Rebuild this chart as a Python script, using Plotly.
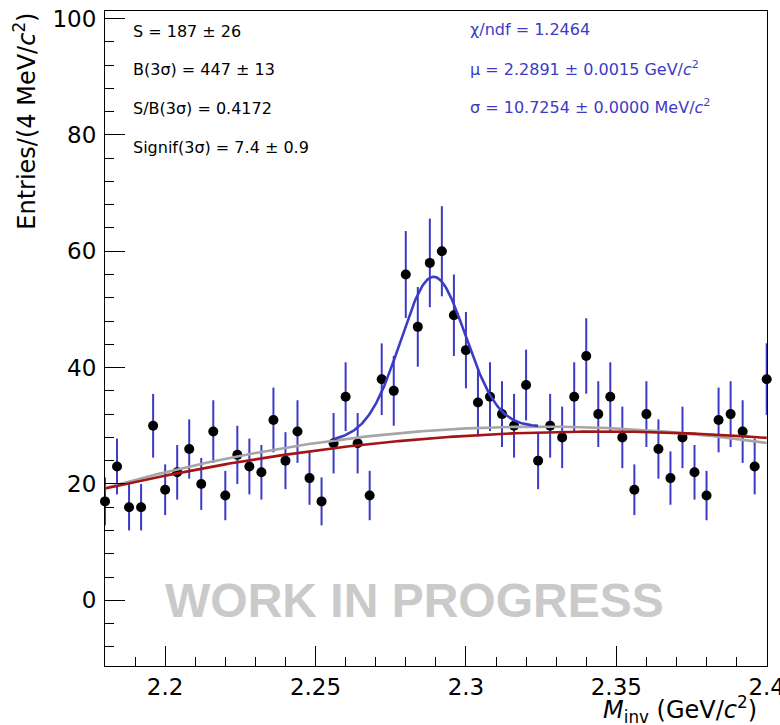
import numpy as np
import plotly.graph_objects as go

# ---------------- data ----------------
bin_low_edge = 2.180
bin_width = 0.004
counts = [17, 23, 16, 16, 30, 19, 22, 26, 20, 29,
          18, 25, 23, 22, 31, 24, 29, 21, 17, 27,
          35, 27, 18, 38, 36, 56, 47, 58, 60, 49,
          43, 34, 35, 32, 30, 37, 24, 30, 28, 35,
          42, 32, 35, 28, 19, 32, 26, 21, 28, 22,
          18, 31, 32, 29, 23, 38]
mass = [round(bin_low_edge + bin_width * i, 3) for i in range(len(counts))]
errors = [float(np.sqrt(c)) for c in counts]

# fit model parameters
gray_bkg = [29.85, 502.0, 2.325]    # peak value, curvature, vertex position
red_bkg = [29.0, 360.0, 2.345]
gauss_amp = 26.4
gauss_mu = 2.2891
gauss_sigma = 0.0107254
signal_range = [2.256, 2.324]

stats_left = ["S = 187 \u00b1 26",
              "B(3\u03c3) = 447 \u00b1 13",
              "S/B(3\u03c3) = 0.4172",
              "Signif(3\u03c3) = 7.4 \u00b1 0.9"]
stats_right = ["\u03c7/ndf = 1.2464",
               "\u03bc = 2.2891 \u00b1 0.0015 GeV/<i>c</i><sup>2</sup>",
               "\u03c3 = 10.7254 \u00b1 0.0000 MeV/<i>c</i><sup>2</sup>"]
stats_left_y = [97.7, 91.2, 84.6, 77.8]
stats_right_y = [98.1, 91.4, 84.9]

FONT = "DejaVu Sans, Liberation Sans, Arial, sans-serif"
FONT_WIP = "Liberation Sans, Arial, Helvetica, sans-serif"
BLUE = "#3b3bc6"
RED = "#a31515"
GRAY = "#a6a6a6"


def quad(x, p):
    return p[0] - p[1] * (x - p[2]) ** 2


xf = np.linspace(2.18, 2.40, 400)
xs = np.linspace(signal_range[0], signal_range[1], 200)
ys = quad(xs, gray_bkg) + gauss_amp * np.exp(-0.5 * ((xs - gauss_mu) / gauss_sigma) ** 2)

fig = go.Figure()

fig.add_trace(go.Scatter(
    x=mass, y=counts, mode="markers",
    marker=dict(color="black", size=10, symbol="circle"),
    error_y=dict(type="data", array=errors, visible=True,
                 color=BLUE, thickness=2, width=0),
    cliponaxis=False, showlegend=False))

fig.add_trace(go.Scatter(x=xf, y=quad(xf, gray_bkg), mode="lines",
                         line=dict(color=GRAY, width=2.6), showlegend=False))
fig.add_trace(go.Scatter(x=xs, y=ys, mode="lines",
                         line=dict(color=BLUE, width=2.6), showlegend=False))
fig.add_trace(go.Scatter(x=xf, y=quad(xf, red_bkg), mode="lines",
                         line=dict(color=RED, width=2.6), showlegend=False))

annotations = []
for t, y in zip(stats_left, stats_left_y):
    annotations.append(dict(x=2.1885, y=y, xref="x", yref="y", text=t,
                            showarrow=False, xanchor="left", yanchor="middle",
                            font=dict(family=FONT, size=16, color="black")))
for t, y in zip(stats_right, stats_right_y):
    annotations.append(dict(x=2.3006, y=y, xref="x", yref="y", text=t,
                            showarrow=False, xanchor="left", yanchor="middle",
                            font=dict(family=FONT, size=16, color=BLUE)))
annotations.append(dict(x=2.283, y=0, xref="x", yref="y", text="<b>WORK IN PROGRESS</b>",
                        showarrow=False, xanchor="center", yanchor="middle",
                        font=dict(family=FONT_WIP, size=48, color="#cacaca")))
annotations.append(dict(x=-0.122, y=1.0, xref="paper", yref="paper",
                        text="Entries/(4 MeV/<i>c</i><sup>2</sup>)", textangle=-90,
                        showarrow=False, xanchor="center", yanchor="top",
                        font=dict(family=FONT, size=24, color="black")))
annotations.append(dict(x=0.988, y=-0.066, xref="paper", yref="paper",
                        text="<i>M</i><sub>inv</sub> (GeV/<i>c</i><sup>2</sup>)",
                        showarrow=False, xanchor="right", yanchor="middle",
                        font=dict(family=FONT, size=24, color="black")))

fig.update_layout(
    width=780, height=725,
    margin=dict(l=105, r=13, t=11, b=59),
    paper_bgcolor="white", plot_bgcolor="white",
    font=dict(family=FONT, size=23, color="black"),
    annotations=annotations,
    xaxis=dict(range=[2.18, 2.4001], tickmode="linear", tick0=2.2, dtick=0.05,
               ticks="inside", ticklen=20, tickwidth=1, tickcolor="black",
               minor=dict(ticks="inside", ticklen=9, dtick=0.01, tick0=2.2,
                          tickcolor="black", tickwidth=1),
               showgrid=False, zeroline=False, showline=True, linecolor="black",
               linewidth=1, mirror=True, tickfont=dict(size=23), automargin=False,
               ticklabeloverflow="allow"),
    yaxis=dict(range=[-11.3, 101.3], tickmode="linear", tick0=0, dtick=20,
               ticks="inside", ticklen=20, tickwidth=1, tickcolor="black",
               minor=dict(ticks="inside", ticklen=9, dtick=4, tick0=0,
                          tickcolor="black", tickwidth=1),
               showgrid=False, zeroline=False, showline=True, linecolor="black",
               linewidth=1, mirror=True, tickfont=dict(size=23), automargin=False,
               ticklabelstandoff=3, ticklabeloverflow="allow"),
)

fig.write_html("out.html")
